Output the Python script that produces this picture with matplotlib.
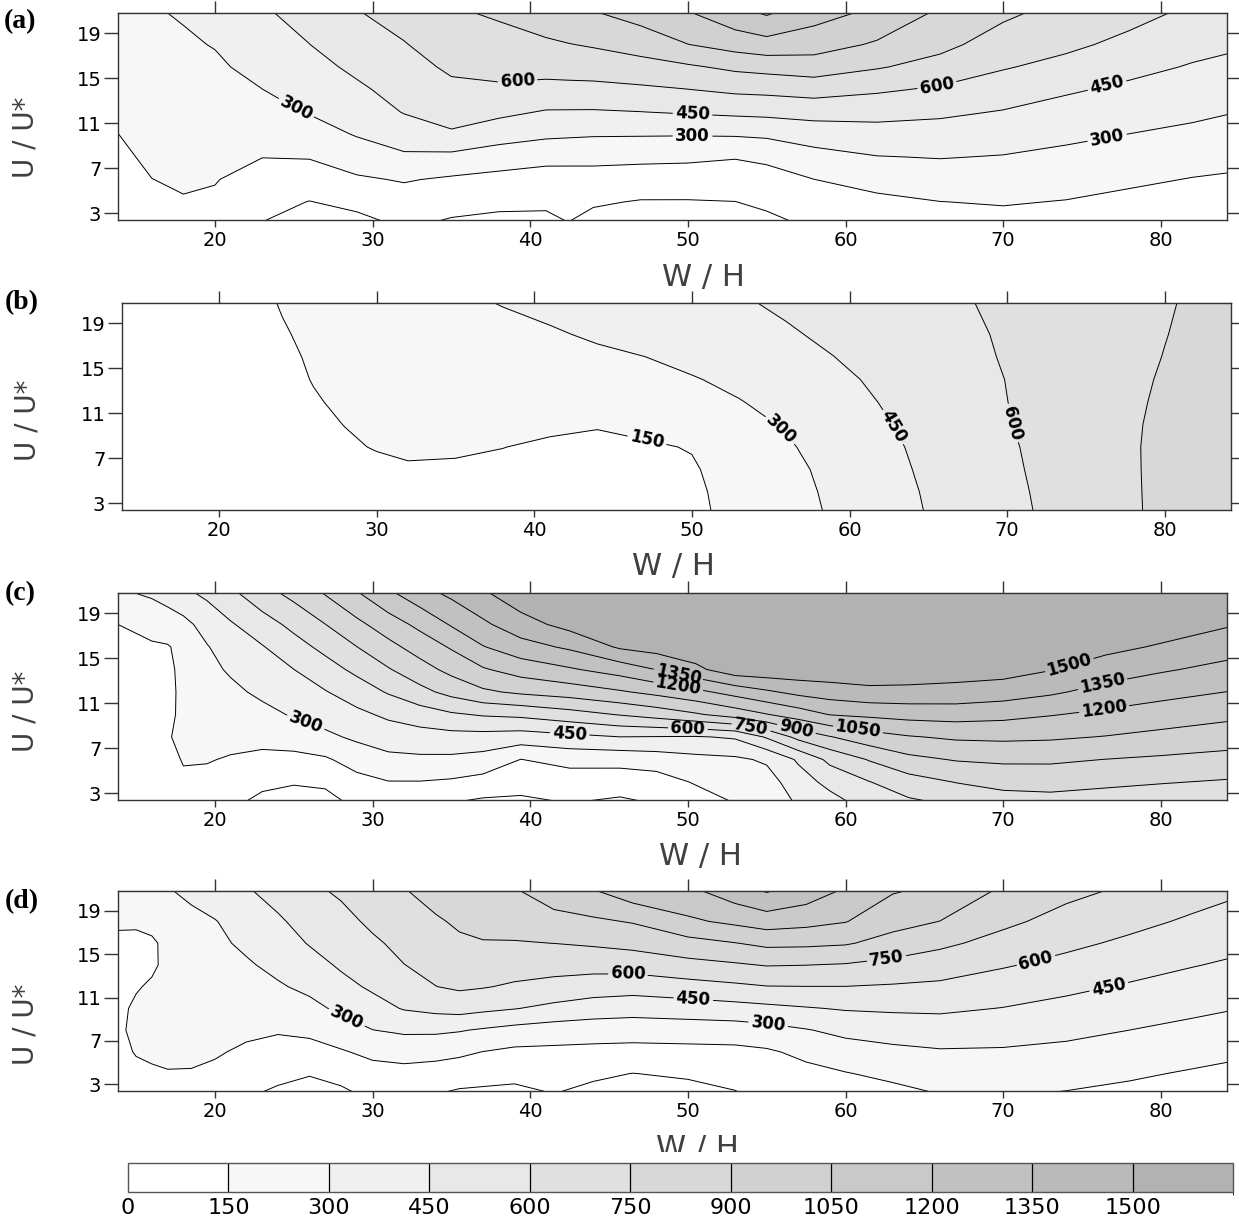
import numpy as np
import matplotlib
matplotlib.use("Agg")
import matplotlib.pyplot as plt
from matplotlib.colors import ListedColormap, BoundaryNorm
from matplotlib.cm import ScalarMappable
from matplotlib.patches import Rectangle

plt.rcParams['font.family'] = ['DejaVu Sans']

W, H = 1239, 1220

# ---------------- data ----------------
levels = [0, 150, 300, 450, 600, 750, 900, 1050, 1200, 1350, 1500, 1800]
tick_levels = levels[:-1]
gray_values = [255, 247, 240, 232, 224, 216, 209, 201, 193, 186, 178]
x_ticks = [20, 30, 40, 50, 60, 70, 80]
y_ticks = [3, 7, 11, 15, 19]
y_rows = [2.3, 4, 6, 8, 10, 12, 14, 16, 18, 20.9]

# panel (a): one list per W/H column, values bottom -> top (rows = y_rows)
a_x = [13.7, 16, 18, 20, 23, 26, 29, 32, 35, 38, 41, 42.4, 44, 47, 50, 53, 55,
       58, 62, 66, 70, 74, 78, 82, 84.3]
a_z_cols = [
    [60, 75, 100, 125, 146, 165, 185, 205, 225, 255],
    [100, 125, 149, 170, 190, 210, 230, 248, 265, 290],
    [125, 143, 163, 183, 203, 223, 243, 263, 283, 312],
    [110, 132, 156, 181, 206, 231, 256, 280, 306, 345],
    [2, 45, 98, 152, 201, 251, 299, 340, 380, 436],
    [-50, -4, 77, 158, 237, 309, 356, 403, 449, 495],
    [-35, 37, 131, 223, 309, 368, 426, 479, 527, 594],
    [30, 85, 161, 277, 373, 457, 502, 548, 593, 655],
    [-12, 51, 130, 262, 432, 506, 569, 623, 669, 733],
    [-30, 31, 108, 221, 365, 483, 579, 642, 696, 772],
    [-30, 25, 96, 187, 328, 439, 558, 650, 727, 835],
    [3, 20, 95, 187, 320, 438, 559, 658, 745, 865],
    [-40, 16, 95, 187, 312, 437, 560, 666, 764, 895],
    [-80, -9, 82, 182, 310, 448, 575, 696, 811, 966],
    [-80, -9, 79, 176, 308, 464, 598, 730, 898, 1045],
    [-60, -2, 77, 158, 313, 480, 629, 780, 960, 1160],
    [-30, 27, 95, 179, 325, 488, 638, 800, 994, 1225],
    [30, 80, 149, 250, 365, 505, 660, 825, 964, 1115],
    [60, 114, 205, 295, 392, 498, 621, 762, 882, 1020],
    [90, 148, 228, 306, 388, 476, 580, 696, 790, 880],
    [110, 160, 227, 293, 367, 442, 527, 611, 682, 782],
    [95, 144, 205, 266, 330, 397, 468, 556, 630, 700],
    [65, 113, 175, 237, 298, 361, 422, 490, 563, 650],
    [35, 80, 144, 206, 269, 328, 383, 439, 495, 575],
    [30, 75, 133, 190, 248, 306, 361, 417, 472, 550],
]

# panel (b): one list per U/U* row (rows = y_rows), values left -> right
b_x = [13.7, 18, 22, 24, 26, 28, 30, 32, 35, 38, 41, 44, 47, 50, 53, 56, 59,
       62, 65, 68, 71, 74, 77, 80, 84.3]
b_z_rows = [
    [80, 92, 102, 106, 110, 112, 113, 113, 111, 109, 107, 108, 115, 135, 172, 248, 316, 387, 457, 522, 586, 651, 716, 780, 850],
    [78, 92, 104, 110, 115, 118, 125, 128, 127, 123, 112, 112, 117, 135, 180, 255, 323, 394, 463, 527, 591, 655, 718, 780, 850],
    [75, 92, 108, 115, 120, 128, 138, 145, 143, 136, 125, 120, 125, 140, 195, 265, 335, 405, 473, 535, 598, 659, 720, 780, 850],
    [72, 93, 113, 123, 133, 143, 153, 158, 157, 151, 140, 133, 138, 155, 226, 286, 351, 418, 482, 543, 604, 662, 721, 780, 850],
    [66, 91, 115, 127, 139, 151, 160, 165, 168, 166, 162, 155, 175, 205, 255, 312, 374, 436, 495, 554, 613, 667, 721, 775, 840],
    [61, 90, 118, 132, 146, 158, 169, 180, 196, 213, 229, 245, 262, 278, 295, 338, 396, 454, 509, 563, 617, 667, 718, 768, 830],
    [55, 88, 120, 136, 152, 163, 175, 187, 204, 222, 240, 257, 275, 292, 327, 375, 423, 471, 521, 570, 619, 666, 714, 761, 827],
    [48, 86, 122, 140, 156, 169, 183, 196, 216, 236, 256, 279, 299, 332, 371, 410, 449, 493, 537, 581, 624, 667, 710, 753, 813],
    [43, 85, 125, 145, 162, 179, 196, 212, 237, 262, 287, 315, 346, 376, 406, 437, 472, 511, 549, 588, 628, 668, 708, 747, 803],
    [42, 88, 132, 154, 176, 198, 220, 243, 276, 307, 333, 360, 386, 413, 439, 470, 503, 535, 568, 601, 636, 671, 706, 741, 790],
]

# panel (c): one list per W/H column, values bottom -> top
c_x = [13.7, 16, 17, 18, 19.5, 21, 23, 25, 27, 29, 31, 33, 35, 37, 39.4, 42.5,
       45.7, 48, 50.5, 53, 55, 57, 59, 61.5, 64, 67, 70, 73, 76.5, 80, 84.3]
c_z_cols = [
    [60, 70, 80, 90, 100, 110, 120, 132, 148, 275],
    [70, 80, 90, 100, 110, 120, 130, 140, 178, 332],
    [80, 95, 115, 146, 135, 130, 132, 140, 223, 366],
    [100, 130, 158, 162, 165, 168, 172, 190, 255, 425],
    [90, 120, 157, 183, 210, 237, 264, 291, 359, 484],
    [30, 85, 140, 187, 229, 270, 317, 376, 435, 574],
    [-30, 30, 116, 192, 262, 327, 384, 441, 534, 700],
    [-60, 12, 112, 215, 313, 381, 449, 541, 639, 800],
    [-50, 28, 132, 269, 363, 442, 538, 640, 748, 917],
    [40, 105, 210, 326, 417, 521, 635, 748, 863, 1045],
    [50, 145, 264, 370, 477, 613, 739, 856, 977, 1180],
    [55, 145, 274, 388, 528, 706, 841, 962, 1087, 1300],
    [10, 130, 271, 399, 581, 796, 942, 1065, 1213, 1390],
    [-20, 97, 246, 398, 614, 875, 1035, 1192, 1321, 1485],
    [-25, 59, 148, 380, 633, 926, 1114, 1290, 1440, 1600],
    [10, 75, 197, 412, 690, 969, 1183, 1374, 1550, 1680],
    [-20, 70, 200, 448, 759, 1033, 1266, 1520, 1600, 1680],
    [15, 86, 222, 443, 811, 1091, 1353, 1560, 1620, 1700],
    [84, 163, 259, 438, 882, 1162, 1465, 1600, 1650, 1700],
    [160, 208, 275, 467, 966, 1255, 1590, 1650, 1680, 1700],
    [210, 240, 320, 615, 1043, 1327, 1600, 1660, 1690, 1700],
    [320, 380, 470, 792, 1121, 1390, 1600, 1650, 1680, 1700],
    [400, 493, 636, 891, 1205, 1424, 1600, 1650, 1680, 1700],
    [515, 595, 760, 987, 1230, 1460, 1600, 1650, 1680, 1700],
    [580, 688, 861, 1039, 1253, 1458, 1590, 1650, 1680, 1700],
    [632, 755, 910, 1072, 1262, 1449, 1570, 1640, 1680, 1700],
    [693, 794, 926, 1079, 1243, 1422, 1560, 1630, 1670, 1700],
    [705, 801, 925, 1070, 1208, 1373, 1507, 1600, 1660, 1700],
    [684, 780, 898, 1044, 1169, 1298, 1428, 1540, 1620, 1700],
    [664, 759, 877, 1010, 1130, 1247, 1367, 1484, 1580, 1680],
    [644, 736, 852, 969, 1086, 1197, 1306, 1410, 1512, 1650],
]

# panel (d): one list per W/H column, values bottom -> top
d_x = [13.7, 15, 16, 17, 18.5, 20, 22, 24, 26, 28, 30, 32, 34, 35.5, 37, 39,
       41.5, 44, 46.5, 50, 53, 55, 57.5, 60, 63, 66, 70, 74, 78, 82, 84.3]
d_z_cols = [
    [60, 80, 110, 135, 133, 138, 140, 143, 155, 240],
    [90, 120, 158, 165, 160, 145, 140, 142, 155, 265],
    [110, 138, 165, 175, 170, 158, 140, 135, 180, 285],
    [120, 145, 170, 185, 185, 178, 165, 175, 215, 295],
    [110, 145, 166, 185, 204, 222, 241, 260, 278, 320],
    [80, 125, 163, 185, 206, 228, 250, 271, 293, 390],
    [20, 59, 129, 175, 211, 247, 284, 326, 373, 438],
    [-20, 35, 99, 163, 224, 285, 336, 383, 430, 505],
    [-60, 10, 98, 182, 261, 332, 396, 459, 506, 570],
    [-25, 49, 137, 235, 328, 407, 469, 512, 554, 625],
    [40, 95, 185, 298, 395, 472, 524, 576, 629, 705],
    [45, 105, 204, 324, 460, 529, 598, 641, 683, 742],
    [10, 90, 195, 325, 490, 598, 642, 685, 727, 826],
    [-15, 66, 179, 310, 506, 622, 669, 720, 778, 875],
    [-20, 47, 148, 285, 483, 609, 675, 740, 804, 895],
    [-25, 31, 120, 253, 456, 581, 665, 742, 804, 888],
    [5, 51, 117, 229, 414, 552, 657, 751, 839, 1000],
    [-30, 22, 108, 222, 375, 526, 653, 768, 876, 1047],
    [-60, -2, 101, 218, 359, 512, 662, 793, 910, 1150],
    [-40, 18, 106, 226, 375, 544, 705, 850, 1025, 1170],
    [-5, 47, 113, 229, 397, 573, 734, 896, 1081, 1290],
    [40, 85, 131, 251, 415, 595, 758, 934, 1121, 1370],
    [70, 110, 185, 292, 440, 598, 752, 930, 1095, 1290],
    [80, 143, 235, 338, 462, 598, 740, 914, 1056, 1185],
    [115, 183, 267, 363, 471, 586, 707, 846, 951, 1065],
    [158, 212, 287, 379, 474, 572, 674, 780, 898, 1020],
    [165, 216, 284, 363, 446, 529, 613, 700, 781, 880],
    [146, 200, 266, 336, 408, 482, 559, 632, 699, 790],
    [120, 170, 235, 300, 368, 436, 505, 574, 640, 728],
    [85, 136, 200, 265, 329, 393, 457, 518, 579, 663],
    [70, 116, 180, 244, 308, 371, 433, 491, 548, 628],
]

# contour-label anchor points (W/H, U/U*)
a_label_pts = [(25.1, 12.2), (39.2, 14.6), (50.3, 11.9), (50.3, 9.9),
               (65.8, 14.4), (76.6, 14.3), (76.6, 9.7)]
b_label_pts = [(47.2, 8.9), (55.6, 9.5), (62.8, 9.8), (70.3, 10.1)]
c_label_pts = [(25.7, 9.1), (42.5, 8.3), (50.0, 8.6), (54.0, 8.8), (56.9, 8.8),
               (60.8, 8.76), (49.4, 13.6), (49.4, 12.6), (74.2, 14.37),
               (76.3, 12.74), (76.4, 10.53)]
d_label_pts = [(28.3, 8.97), (46.2, 13.1), (50.35, 10.96), (55.1, 8.66),
               (62.6, 14.6), (72.1, 14.3), (76.7, 12.0)]

# ---------------- drawing ----------------
colors = [(g / 255.0,) * 3 for g in gray_values]
cmap = ListedColormap(colors)
norm = BoundaryNorm(levels, cmap.N)

fig = plt.figure(figsize=(W / 100, H / 100), dpi=100)


def rect(l, t, r, b):
    return [l / W, 1 - b / H, (r - l) / W, (b - t) / H]


def ftext(px, py, s, **kw):
    fig.text(px / W, 1 - py / H, s, **kw)


panels = [
    dict(box=(118, 13, 1227, 220), x=a_x, z=np.array(a_z_cols, float).T,
         pts=a_label_pts, letter='(a)', lp=(4, 22), uu=(26, 137), wh=(703, 277)),
    dict(box=(122, 303, 1231, 510), x=b_x, z=np.array(b_z_rows, float),
         pts=b_label_pts, letter='(b)', lp=(5, 303), uu=(28, 420), wh=(673, 567)),
    dict(box=(118, 593, 1227, 800), x=c_x, z=np.array(c_z_cols, float).T,
         pts=c_label_pts, letter='(c)', lp=(5, 594), uu=(26, 711), wh=(700, 857)),
    dict(box=(118, 891, 1227, 1091), x=d_x, z=np.array(d_z_cols, float).T,
         pts=d_label_pts, letter='(d)', lp=(5, 902), uu=(26, 1024), wh=(697, 1148)),
]

edge = '#333333'
for p in panels:
    ax = fig.add_axes(rect(*p['box']))
    X, Y = np.meshgrid(np.array(p['x'], float), np.array(y_rows, float))
    Z = p['z']
    ax.contourf(X, Y, Z, levels=levels, colors=colors)
    cs = ax.contour(X, Y, Z, levels=levels[:-1], colors='k', linewidths=0.7)
    texts = ax.clabel(cs, manual=p['pts'], fmt='%d', fontsize=12,
                      inline=True, inline_spacing=4)
    for t in texts:
        t.set_fontweight('bold')
    ax.set_xlim(13.85, 84.2)
    ax.set_ylim(2.4, 20.8)
    ax.set_xticks(x_ticks)
    ax.set_yticks(y_ticks)
    ax.tick_params(axis='x', direction='out', length=5, width=1, color=edge,
                   labelsize=14, pad=3)
    ax.tick_params(axis='y', direction='out', length=10, width=1, color=edge,
                   labelsize=14, pad=2, right=True)
    for s in ax.spines.values():
        s.set_color(edge)
        s.set_linewidth(1)
    sec = ax.secondary_xaxis('top')
    sec.set_xticks(x_ticks)
    sec.set_xticklabels([])
    sec.tick_params(direction='out', length=9, width=1, color=edge)
    sec.spines['top'].set_color(edge)

    ftext(p['lp'][0], p['lp'][1], p['letter'], family='Liberation Serif',
          fontweight='bold', fontsize=20, ha='left', va='center')
    ftext(p['uu'][0], p['uu'][1], 'U / U*', fontsize=20, color='#404040',
          rotation=90, ha='center', va='center')
    ftext(p['wh'][0], p['wh'][1], 'W / H', fontsize=22, color='#404040',
          ha='center', va='center')

# white strip that hides the lower part of the last W/H (as in the original)
fig.add_artist(Rectangle((560 / W, 1 - 1163 / H), 260 / W, 11 / H,
                         transform=fig.transFigure, facecolor='white',
                         edgecolor='none', zorder=10))

# colour bar
cax = fig.add_axes(rect(128, 1163, 1233, 1192))
cax.set_zorder(11)
sm = ScalarMappable(norm=norm, cmap=cmap)
cb = fig.colorbar(sm, cax=cax, orientation='horizontal', spacing='uniform',
                  ticks=tick_levels, drawedges=True)
cb.dividers.set_color('black')
cb.dividers.set_linewidth(0.9)
cb.outline.set_edgecolor('#555555')
cb.outline.set_linewidth(1)
cax.tick_params(length=0, labelsize=16, pad=4)
cax.set_xticklabels([str(v) for v in tick_levels])

fig.savefig('out.png', dpi=100)
